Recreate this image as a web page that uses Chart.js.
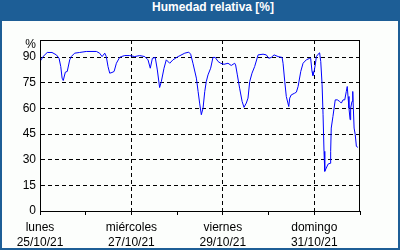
<!DOCTYPE html>
<html>
<head>
<meta charset="utf-8">
<script src="https://cdn.jsdelivr.net/npm/chart.js@4/dist/chart.umd.min.js"></script>
<style>
  body { margin: 0; }
  #frame { position: relative; width: 400px; height: 250px; background: #1d5e96; overflow: hidden; }
  #title { position: absolute; left: 0; top: 0; width: 400px; height: 21px; line-height: 20px;
           color: #fff; font: bold 12px "Liberation Sans", Arial, sans-serif; text-align: center;
           box-sizing: border-box; padding-left: 26px; }
  #box { position: absolute; left: 2px; top: 21px; width: 396px; height: 227px; background: #fcfefc; }
</style>
</head>
<body>
<div id="frame">
  <div id="title">Humedad relativa [%]</div>
  <div id="box"><canvas id="canvas" width="396" height="227"></canvas></div>
</div>
<script>
// hours since lunes 25/10/21 00:00
const hours = [0, 1.6, 3.8, 6.3, 8.6, 10.0, 10.9, 11.6, 12.2, 13.3, 14.3, 15.6, 16.4, 18.2, 20.8, 24.3,
  29.6, 31.3, 32.6, 34.0, 34.8, 35.7, 36.6, 37.8, 38.9, 40.1, 41.8, 42.7, 44.5, 47.1, 49.7,
  52.3, 55.0, 56.7, 57.9, 59.0, 60.5, 61.6, 62.8, 63.7, 65.1, 66.3, 68.1, 69.8, 72.5, 76.0,
  78.1, 79.1, 80.3, 82.1, 83.0, 83.8, 84.7, 85.6, 86.5, 87.3, 88.2, 89.6, 90.8, 92.0, 93.5,
  94.9, 96.6, 98.7, 100.4, 102.2, 102.7, 103.6, 104.8, 106.1, 107.1, 108.3, 109.2, 110.1, 111.3,
  112.7, 114.5, 117.1, 118.8, 120.1, 121.4, 122.9, 125.0, 127.1, 127.6, 128.5, 129.3, 130.6,
  131.1, 131.9, 133.7, 134.6, 135.5, 136.9, 138.1, 139.8, 141.6, 142.1, 142.8, 143.3, 143.9,
  144.5, 145.1, 146.0, 146.8, 147.4, 148.1, 148.6, 149.1, 149.5, 150.3, 151.2, 152.3, 152.6,
  152.9, 153.8, 154.4, 155.0, 156.1, 157.3, 158.2, 159.1, 160.0, 160.8, 161.3, 161.7, 162.2,
  162.8, 163.1, 163.8, 164.2, 164.5, 164.9, 165.5, 166.1, 166.9];
const humedad = [87.4, 90.3, 92.7, 92.7, 91.3, 89.3, 84.5, 77.7, 76.3, 81.2, 81.6, 88.4, 90.3, 92.3, 92.7, 93.3,
  93.3, 92.3, 90.3, 92.3, 90.3, 84.5, 80.6, 81.0, 81.6, 86.4, 89.8, 90.3, 90.9, 90.9, 90.3,
  90.9, 90.3, 88.4, 83.5, 89.3, 89.8, 82.5, 72.2, 75.7, 83.5, 88.4, 86.4, 88.4, 90.3, 92.3,
  92.9, 91.7, 86.4, 77.7, 69.9, 63.1, 56.3, 60.2, 69.9, 75.7, 79.6, 83.5, 89.8, 89.8, 87.4,
  86.4, 85.8, 86.4, 85.1, 86.4, 85.4, 79.6, 71.8, 64.1, 60.6, 63.1, 66.0, 75.7, 80.6,
  84.5, 91.3, 91.7, 91.3, 89.3, 89.8, 91.3, 90.3, 89.8, 86.4, 75.7, 67.0, 61.1,
  66.0, 67.9, 68.9, 69.5, 72.8, 81.6, 86.4, 88.4, 89.3, 89.3, 81.6, 79.2, 81.6,
  85.4, 90.3, 91.7, 92.5, 87.4, 73.8, 56.3, 34.9, 23.2, 25.1, 27.4, 27.9, 34.9,
  48.5, 55.3, 60.2, 65.0, 65.0, 64.1, 63.1, 65.0, 65.0, 69.9, 72.8, 67.0, 60.2,
  53.4, 60.2, 64.1, 69.9, 60.2, 48.5, 44.6, 37.8, 37.2];
const dayTicks = [0, 48, 96, 144];
const dayNames = ['lunes', 'miércoles', 'viernes', 'domingo'];
const dayDates = ['25/10/21', '27/10/21', '29/10/21', '31/10/21'];
const yTicks = [0, 15, 30, 45, 60, 75, 90];

const points = hours.map((h, i) => ({x: h, y: humedad[i]}));

const framePlugin = {
    id: 'frame',
    afterDraw(chart) {
        const ctx = chart.ctx;
        const a = chart.chartArea;
        ctx.save();
        ctx.strokeStyle = '#000';
        ctx.lineWidth = 1;
        ctx.strokeRect(a.left + 0.5, a.top + 0.5, a.right - a.left - 1, a.bottom - a.top);
        ctx.fillStyle = '#000';
        ctx.font = '12px "Liberation Sans"';
        ctx.textAlign = 'right';
        ctx.textBaseline = 'middle';
        ctx.fillText('%', a.left - 4, a.top + 5);
        ctx.restore();
    }
};

new Chart(document.getElementById('canvas'), {
    type: 'line',
    data: {
        datasets: [{
            data: points,
            borderColor: '#0000ff',
            borderWidth: 1,
            pointRadius: 0,
            tension: 0
        }]
    },
    options: {
        responsive: false,
        animation: false,
        layout: {padding: {top: 19, right: 38, left: 0, bottom: 0}},
        plugins: {legend: {display: false}, tooltip: {enabled: false}},
        scales: {
            x: {
                type: 'linear',
                min: 0,
                max: 168,
                afterFit: function(scale) { scale.height = 37; },
                afterBuildTicks: function(scale) {
                    scale.ticks = [0, 24, 48, 72, 96, 120, 144, 168].map(v => ({value: v}));
                },
                ticks: {
                    autoSkip: false,
                    maxRotation: 0,
                    padding: 5,
                    color: '#000',
                    font: {family: 'Liberation Sans', size: 12, lineHeight: 1.25},
                    callback: function(v) {
                        const i = dayTicks.indexOf(v);
                        return i >= 0 ? [dayNames[i], dayDates[i]] : '';
                    }
                },
                grid: {
                    color: function(c) {
                        const v = c.tick ? c.tick.value : -1;
                        return (v > 0 && v < 168 && v % 48 === 0) ? '#000' : 'rgba(0,0,0,0)';
                    },
                    tickColor: '#000',
                    tickLength: 4
                },
                border: {color: '#000', dash: [4, 3]}
            },
            y: {
                min: 0,
                max: 100,
                afterFit: function(scale) { scale.width = 38; },
                afterBuildTicks: function(scale) {
                    scale.ticks = yTicks.map(v => ({value: v}));
                },
                ticks: {
                    padding: 4,
                    color: '#000',
                    font: {family: 'Liberation Sans', size: 12}
                },
                grid: {
                    drawTicks: false,
                    color: function(c) {
                        const v = c.tick ? c.tick.value : 0;
                        return v > 0 ? '#000' : 'rgba(0,0,0,0)';
                    }
                },
                border: {color: '#000', dash: [4, 3]}
            }
        }
    },
    plugins: [framePlugin]
});
</script>
</body>
</html>
